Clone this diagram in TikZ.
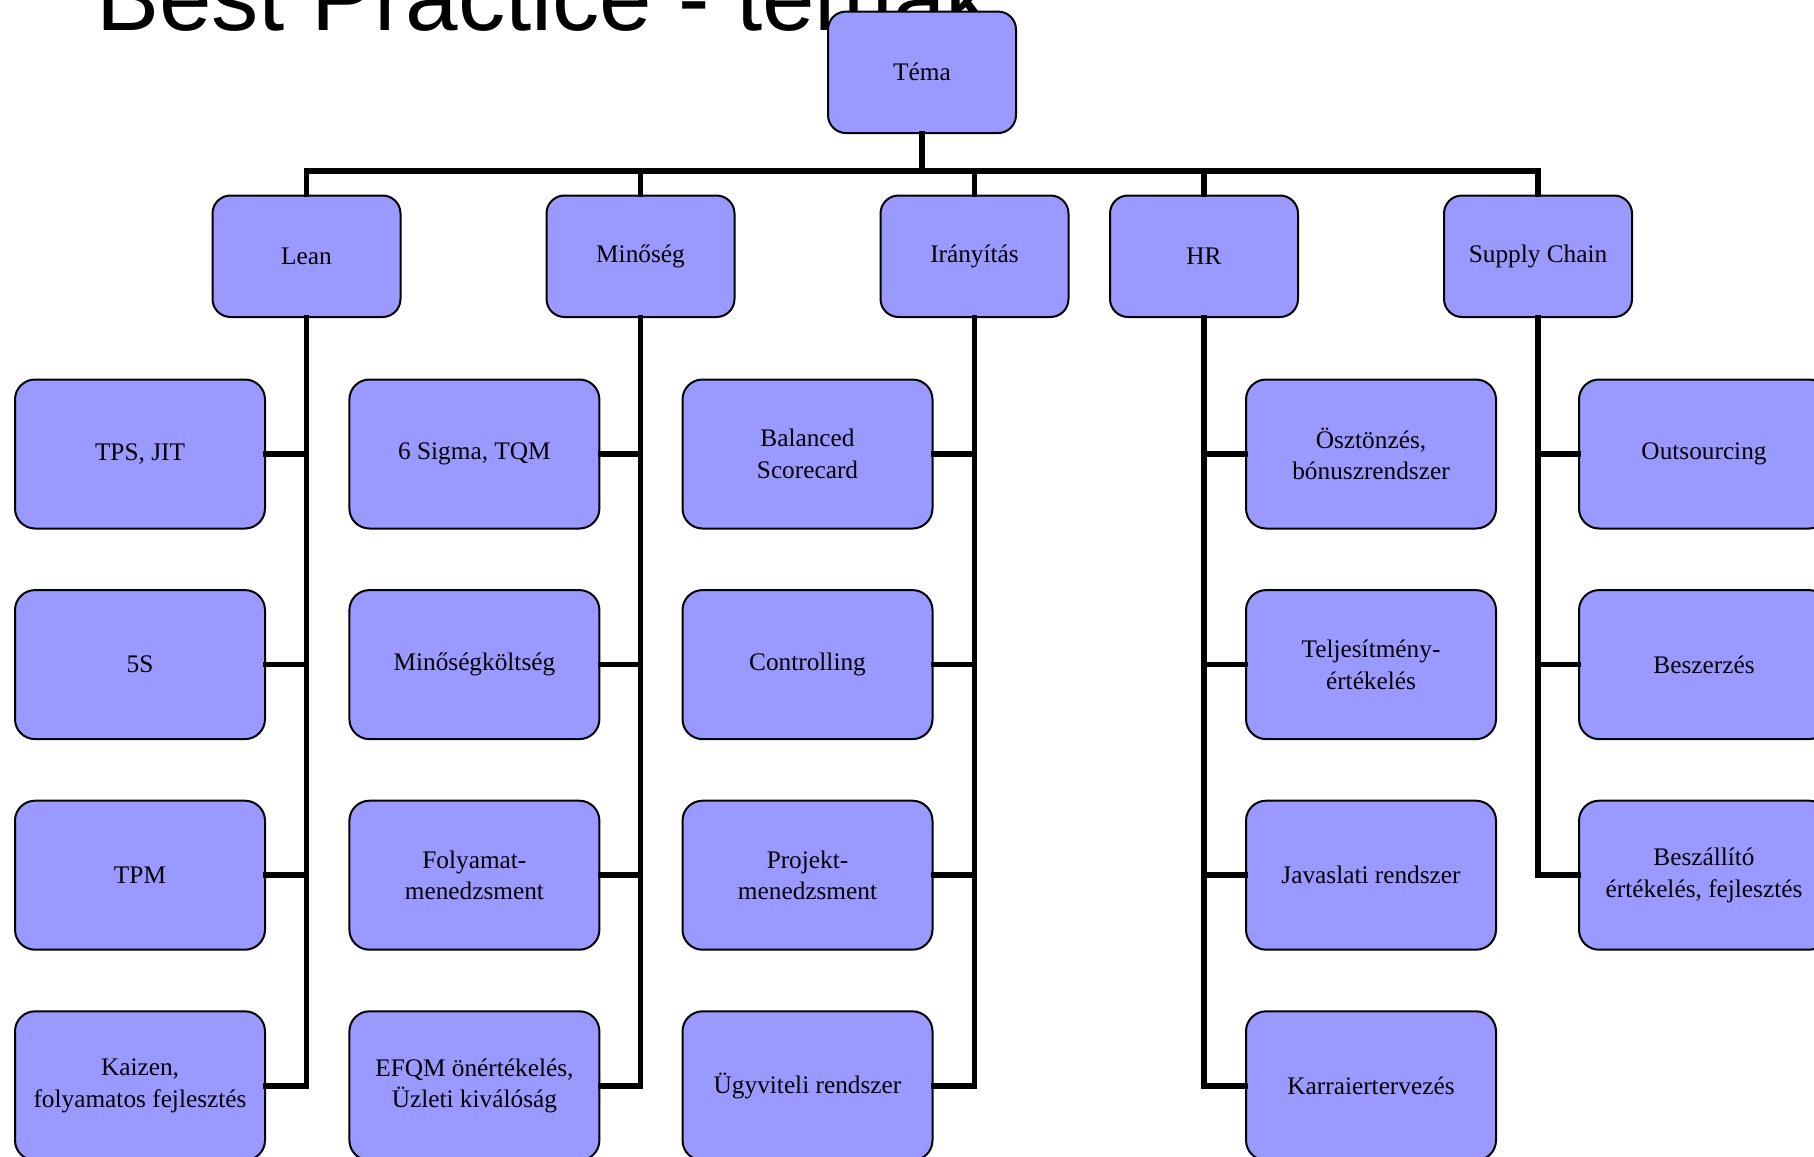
\documentclass[tikz,border=0pt]{standalone}
\usepackage{fontspec}
\setmainfont{Liberation Serif}
\newfontfamily\titlefont{Liberation Sans}
\definecolor{boxfill}{RGB}{153,153,255}
\begin{document}
\begin{tikzpicture}[x=1pt,y=-1pt,
  box/.style={draw=black,line width=2pt,fill=boxfill,rounded corners=20pt,
    inner sep=0pt,align=center,font=\fontsize{25.3}{31.6}\selectfont},
  topbox/.style={box,minimum width=188pt,minimum height=121.5pt,rounded corners=18pt},
  subbox/.style={box,minimum width=250pt,minimum height=149pt},
  conn/.style={line width=5.5pt,line join=miter,line cap=rect}]
\useasboundingbox (0,0) rectangle (1814,1156);
\clip (0,0) rectangle (1814,1156);
\node[anchor=base west,inner sep=0pt,font=\titlefont\fontsize{94.4}{100}\selectfont] (title) at (96,30.7) {Best Practice - témák};
\coordinate (bus) at (0,171);
\node[topbox] (tema) at (922,72.3) {Téma};
\node[topbox] (lean) at (306.5,256.25) {Lean};
\node[topbox] (mino) at (640.5,256.25) {Minőség};
\node[topbox] (iran) at (974.5,256.25) {Irányítás};
\node[topbox] (hr) at (1204,256.25) {HR};
\node[topbox] (sc) at (1538,256.25) {Supply Chain};
% level 2
\node[subbox] (l1) at (140,454) {TPS, JIT};
\node[subbox] (l2) at (140,664.6) {5S};
\node[subbox] (l3) at (140,875.2) {TPM};
\node[subbox] (l4) at (140,1085.8) {Kaizen,\\folyamatos fejlesztés};
\node[subbox] (m1) at (474.4,454) {6 Sigma, TQM};
\node[subbox] (m2) at (474.4,664.6) {Minőségköltség};
\node[subbox] (m3) at (474.4,875.2) {Folyamat-\\menedzsment};
\node[subbox] (m4) at (474.4,1085.8) {EFQM önértékelés,\\Üzleti kiválóság};
\node[subbox] (i1) at (807.5,454) {Balanced\\Scorecard};
\node[subbox] (i2) at (807.5,664.6) {Controlling};
\node[subbox] (i3) at (807.5,875.2) {Projekt-\\menedzsment};
\node[subbox] (i4) at (807.5,1085.8) {Ügyviteli rendszer};
\node[subbox] (h1) at (1371,454) {Ösztönzés,\\bónuszrendszer};
\node[subbox] (h2) at (1371,664.6) {Teljesítmény-\\értékelés};
\node[subbox] (h3) at (1371,875.2) {Javaslati rendszer};
\node[subbox] (h4) at (1371,1085.8) {Karraiertervezés};
\node[subbox] (s1) at (1704,454) {Outsourcing};
\node[subbox] (s2) at (1704,664.6) {Beszerzés};
\node[subbox] (s3) at (1704,875.2) {Beszállító\\értékelés, fejlesztés};
% bus
\draw[conn] (tema.south) -- (tema.south |- bus);
\draw[conn] (lean.north) |- (sc.north |- bus) -- (sc.north);
\draw[conn] (mino.north) -- (mino.north |- bus);
\draw[conn] (iran.north) -- (iran.north |- bus);
\draw[conn] (hr.north) -- (hr.north |- bus);
% branches
\draw[conn] (lean.south) |- (l4.east);
\draw[conn] (l1.east) -- (l1.east -| lean.south);
\draw[conn] (l2.east) -- (l2.east -| lean.south);
\draw[conn] (l3.east) -- (l3.east -| lean.south);
\draw[conn] (mino.south) |- (m4.east);
\draw[conn] (m1.east) -- (m1.east -| mino.south);
\draw[conn] (m2.east) -- (m2.east -| mino.south);
\draw[conn] (m3.east) -- (m3.east -| mino.south);
\draw[conn] (iran.south) |- (i4.east);
\draw[conn] (i1.east) -- (i1.east -| iran.south);
\draw[conn] (i2.east) -- (i2.east -| iran.south);
\draw[conn] (i3.east) -- (i3.east -| iran.south);
\draw[conn] (hr.south) |- (h4.west);
\draw[conn] (h1.west) -- (h1.west -| hr.south);
\draw[conn] (h2.west) -- (h2.west -| hr.south);
\draw[conn] (h3.west) -- (h3.west -| hr.south);
\draw[conn] (sc.south) |- (s3.west);
\draw[conn] (s1.west) -- (s1.west -| sc.south);
\draw[conn] (s2.west) -- (s2.west -| sc.south);
\end{tikzpicture}
\end{document}
